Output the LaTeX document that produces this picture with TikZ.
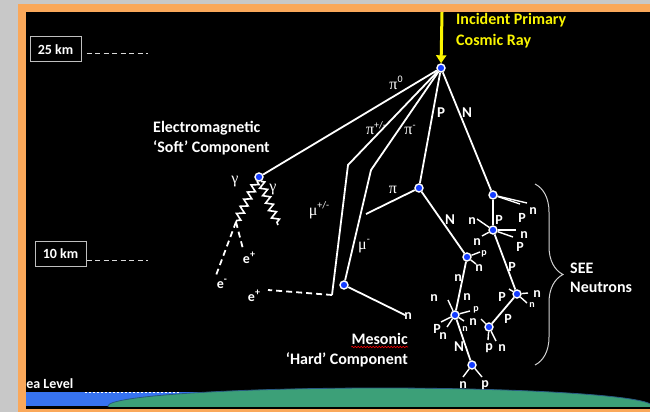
\documentclass[tikz,border=0pt]{standalone}
\usepackage{fontspec}
\setmainfont{Carlito}
\newfontfamily\grkfont{Liberation Serif}
\usetikzlibrary{decorations.pathmorphing,decorations.pathreplacing,arrows.meta,calc}

\definecolor{framegrey}{RGB}{200,200,200}
\definecolor{frameorange}{RGB}{250,168,90}
\definecolor{vtxblue}{RGB}{20,60,255}
\definecolor{rayyellow}{RGB}{250,245,0}
\definecolor{seablue}{RGB}{55,115,240}
\definecolor{landgreen}{RGB}{60,160,120}
\definecolor{landedge}{RGB}{40,90,130}
\definecolor{bracegrey}{RGB}{210,210,210}

% raised index for particle names
\newcommand{\hiidx}[1]{\raisebox{0.42em}{\rmfamily\fontsize{10}{10}\selectfont #1}}

\begin{document}
\begin{tikzpicture}[x=1pt,y=-1pt,
  track/.style={white, line width=1.8pt},
  spray/.style={white, line width=1.4pt},
  leptrack/.style={white, line width=1.8pt, dash pattern=on 6pt off 4pt},
  photon/.style={white, line width=1.6pt, decorate,
    decoration={zigzag, segment length=8pt, amplitude=3.5pt}},
  vtx/.style={circle, fill=vtxblue, draw=white, line width=1.4pt,
    minimum size=8pt, inner sep=0pt},
  bigl/.style={text=white, font=\bfseries\fontsize{15}{15}\selectfont, inner sep=0pt},
  medl/.style={text=white, font=\bfseries\fontsize{14}{14}\selectfont, inner sep=0pt},
  smll/.style={text=white, font=\bfseries\fontsize{10}{10}\selectfont, inner sep=0pt},
  grkl/.style={text=white, font=\grkfont\fontsize{16}{16}\selectfont, inner sep=0pt},
  caption/.style={text=white, font=\bfseries\fontsize{16}{16}\selectfont, inner sep=0pt},
  kmbox/.style={draw=white!75!black, line width=1pt, fill=black, text=white,
    font=\bfseries\fontsize{14}{14}\selectfont, minimum width=51pt,
    minimum height=25pt, inner sep=0pt},
  level/.style={white!85!black, line width=1pt, dash pattern=on 5pt off 3.5pt},
]
\useasboundingbox (0,0) rectangle (650,412);

% slide frame
\fill[framegrey] (0,0) rectangle (650,412);
\fill[frameorange] (18,4) rectangle (650,412);
\fill[black] (26,12) rectangle (650,409);

\begin{scope}
\clip (26,12) rectangle (650,409);

% ground and sea
\fill[seablue] (26,392) rectangle (200,406);
\draw[white, line width=0.8pt, dash pattern=on 2pt off 2pt] (85,392.5) -- (180,392.5);
\begin{scope}
  \clip (26,12) rectangle (650,406);
  \filldraw[fill=landgreen, draw=landedge, line width=0.8pt]
    (380,406) ellipse [x radius=272, y radius=18];
\end{scope}
\node[caption, font=\bfseries\fontsize{14}{14}\selectfont, anchor=base west]
  (sealevel) at (19.5,388) {Sea Level};

% altitude markers
\node[kmbox] (km25) at (55.5,49.5) {25 km};
\node[kmbox] (km10) at (60.5,253.5) {10 km};
\coordinate (km25end) at (148,54);
\coordinate (km10end) at (148,260);
\draw[level] (km25.east |- km25end) ++(5,0) -- (km25end);
\draw[level] (km10.east |- km10end) -- (km10end);

% interaction vertices
\node[vtx] (v0) at (441,68) {};
\node[vtx] (em) at (259,177) {};
\node[vtx] (mu) at (344,285) {};
\node[vtx] (pi) at (419,188) {};
\node[vtx] (nv) at (493,195) {};
\node[vtx] (q1) at (493,230) {};
\node[vtx] (va) at (467,257) {};
\node[vtx] (vb) at (455,315) {};
\node[vtx] (vc) at (472,365) {};
\node[vtx] (vd) at (489,327) {};
\node[vtx] (ve) at (517,294) {};

% incoming primary
\coordinate (ray) at (442,12);
\draw[rayyellow, line width=3pt, -{Triangle[length=8pt,width=10pt]}] (ray) -- (v0);
\node[caption, text=rayyellow, anchor=base west] (inc1) at (456,25) {Incident Primary};
\node[caption, text=rayyellow, anchor=base west] (inc2) at (456,45.5) {Cosmic Ray};

% bends and free ends
\coordinate (pm1) at (348,165);
\coordinate (pm2) at (332,295);
\coordinate (pn1) at (371,170);
\coordinate (piend) at (366,214);
\coordinate (muend) at (405,315);
\coordinate (g1end) at (236,222);
\coordinate (g2end) at (278,225);
\coordinate (eminus) at (215,278);
\coordinate (eplusa) at (243,249);
\coordinate (eplusb) at (268,290);

% main tracks
\draw[track] (v0) -- (em);
\draw[track] (v0) -- (pm1) -- (pm2);
\draw[track] (v0) -- (pn1) -- (mu);
\draw[track] (v0) -- (pi);
\draw[track] (v0) -- (nv);
\draw[track] (pi) -- (piend);
\draw[track] (pi) -- (va);
\draw[track] (nv) -- (q1);
\draw[track] (q1) -- (ve);
\draw[track] (ve) -- (vd);
\draw[track] (va) -- (vb);
\draw[track] (vb) -- (vc);
\draw[track] (mu) -- (muend);

% electromagnetic shower
\draw[photon] (em) -- (g1end);
\draw[photon] (em) -- (g2end);
\draw[leptrack] (g1end) -- (eminus);
\draw[leptrack] (g1end) -- (eplusa);
\draw[leptrack] (pm2) -- (eplusb);

% secondary sprays
\foreach \v/\x/\y in {nv/527/203, nv/520/204,
  q1/477/219, q1/482/236, q1/516/230, q1/513/237,
  va/480/252, va/476/264,
  vb/448/300, vb/441/322, vb/447/327, vb/470/311, vb/464/321,
  vc/463/377, vc/482/377,
  vd/488/340, vd/496/341, vd/481/319,
  ve/528/293, ve/527/303, ve/509/289}
  \draw[spray] (\v) -- (\x,\y);

% pion and muon labels
\node[grkl] (lpi0) at (396,83) {π\hiidx{0}};
\node[grkl] (lpipm) at (376,128) {π\hiidx{+/-}};
\node[grkl] (lpim) at (410,130) {π\hiidx{-}};
\node[grkl] (lpi) at (393,190) {π};
\node[grkl] (lmupm) at (319,210) {μ\hiidx{+/-}};
\node[grkl] (lmum) at (364,246) {μ\hiidx{-}};
\node[grkl] (lg1) at (235,182) {γ};
\node[grkl] (lg2) at (273,190) {γ};

% electrons
\node[medl] (le1) at (249,258) {e\hiidx{+}};
\node[medl] (le2) at (222,284) {e\hiidx{-}};
\node[medl] (le3) at (254,296) {e\hiidx{+}};

% nucleon labels
\node[bigl] (lP) at (441,113) {P};
\node[bigl] (lN) at (467,113) {N};
\node[bigl] (lN2) at (450,220) {N};
\node[bigl] (lN3) at (459,347) {N};
\foreach \t/\x/\y in {P/522/218, P/499/220, P/520/247, P/512/267, P/502/297,
  P/508/319, P/437/329}
  \node[medl] at (\x,\y) {\t};
\foreach \x/\y in {533/211, 472/221, 524/235, 477/242, 479/268, 458/278,
  434/298, 467/297, 537/294, 473/322, 443/336, 463/385, 502/348, 408/316}
  \node[medl] at (\x,\y) {n};
\foreach \x/\y in {489/348, 485/385}
  \node[medl] at (\x,\y) {p};
\foreach \t/\x/\y in {p/484/254, p/476/310, n/532/305, n/465/329}
  \node[smll] at (\x,\y) {\t};

% component captions
\node[caption, anchor=base west] (emc1) at (153,132) {Electromagnetic};
\node[caption, anchor=base west] (emc2) at (153,152) {‘Soft’ Component};
\node[caption, anchor=base east] (msc1) at (408,344) {Mesonic};
\node[caption, anchor=base east] (msc2) at (408,364) {‘Hard’ Component};
\draw[red, line width=0.6pt, decorate,
  decoration={snake, amplitude=0.7pt, segment length=3pt}]
  ($(msc1.base west)+(0,3)$) -- ($(msc1.base east)+(0,3)$);

% neutron bracket
\coordinate (brtop) at (535,184);
\coordinate (brbot) at (535,365);
\draw[bracegrey, line width=1pt, decorate,
  decoration={brace, amplitude=28pt}] (brtop) -- (brbot);
\node[caption, anchor=base west] (see1) at (570,273) {SEE};
\node[caption, anchor=base west] (see2) at (570,292) {Neutrons};
\end{scope}
\end{tikzpicture}
\end{document}
